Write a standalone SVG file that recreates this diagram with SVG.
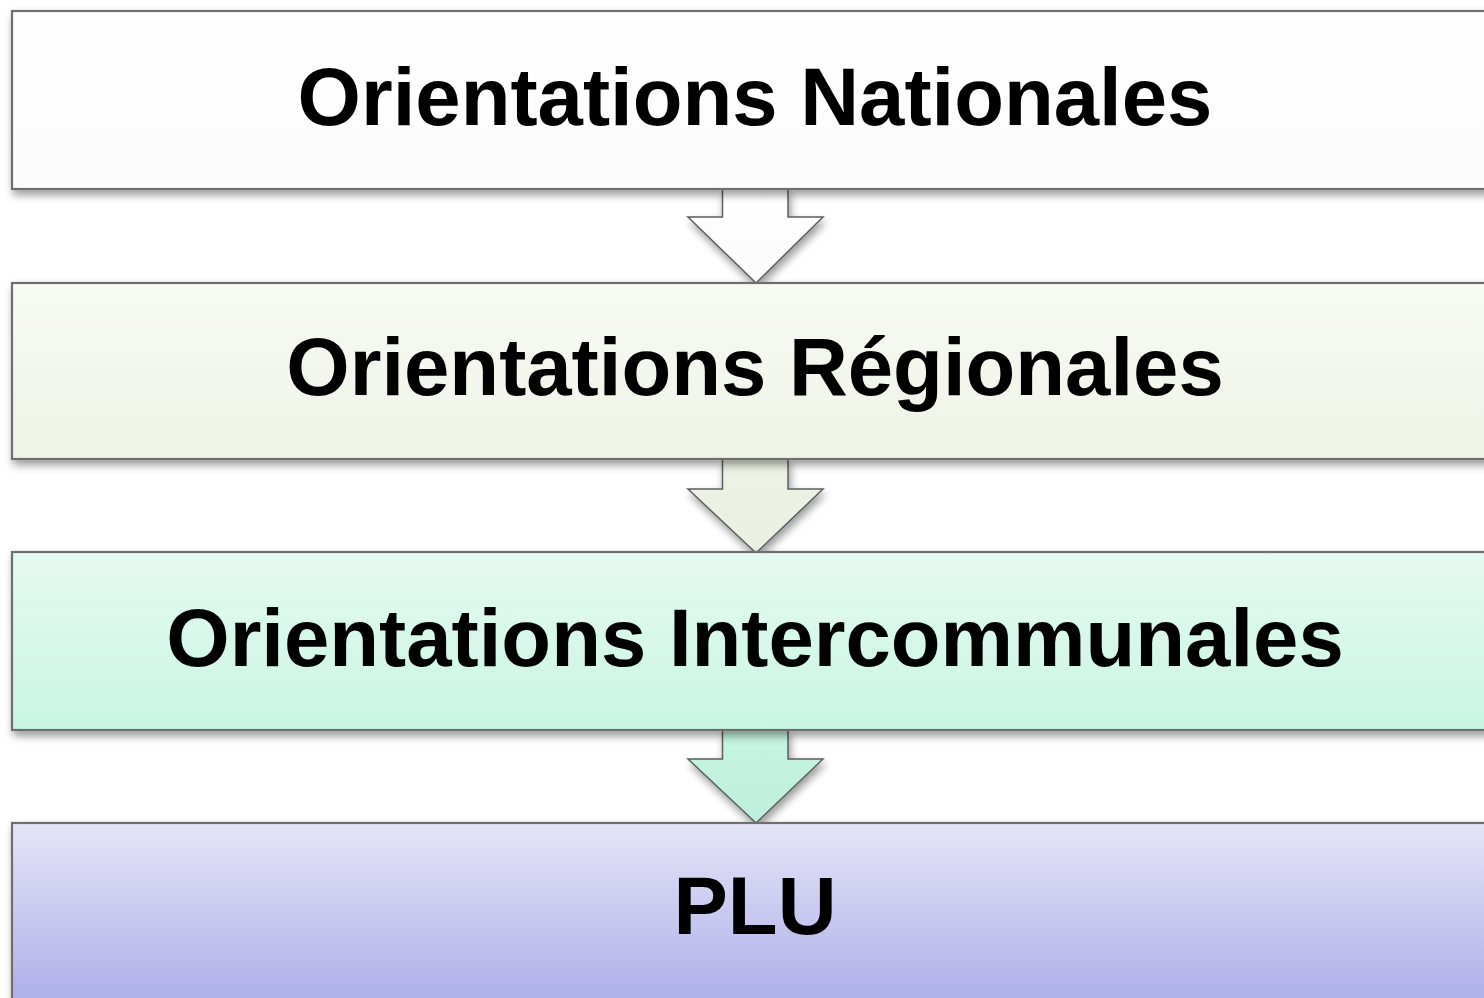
<svg xmlns="http://www.w3.org/2000/svg" width="1484" height="998" viewBox="0 0 1484 998">
<defs>
<filter id="sh" x="-5%" y="-20%" width="115%" height="150%">
<feGaussianBlur in="SourceAlpha" stdDeviation="4"/>
<feOffset dx="2" dy="5" result="b"/>
<feComponentTransfer><feFuncA type="linear" slope="0.4"/></feComponentTransfer>
<feMerge><feMergeNode/><feMergeNode in="SourceGraphic"/></feMerge>
</filter>
<linearGradient id="g1" x1="0" y1="0" x2="0" y2="1"><stop offset="0" stop-color="#fefefe"/><stop offset="1" stop-color="#fcfcfc"/></linearGradient>
<linearGradient id="g2" x1="0" y1="0" x2="0" y2="1"><stop offset="0" stop-color="#f8faf4"/><stop offset="1" stop-color="#eef3e6"/></linearGradient>
<linearGradient id="g3" x1="0" y1="0" x2="0" y2="1"><stop offset="0" stop-color="#e5faf2"/><stop offset="1" stop-color="#c9f5e3"/></linearGradient>
<linearGradient id="g4" x1="0" y1="0" x2="0" y2="1"><stop offset="0" stop-color="#e5e5f8"/><stop offset="1" stop-color="#a8a8e8"/></linearGradient>
<linearGradient id="a1" x1="0" y1="0" x2="0" y2="1"><stop offset="0" stop-color="#ffffff"/><stop offset="1" stop-color="#fbfbfb"/></linearGradient>
<linearGradient id="a2" x1="0" y1="0" x2="0" y2="1"><stop offset="0" stop-color="#eef2e4"/><stop offset="1" stop-color="#eaf0e2"/></linearGradient>
<linearGradient id="a3" x1="0" y1="0" x2="0" y2="1"><stop offset="0" stop-color="#c6f4df"/><stop offset="1" stop-color="#bdf0dc"/></linearGradient>
</defs>
<style>
.box{stroke:#6e6e6e;stroke-width:2.2;filter:url(#sh)}
.arr{stroke:#5e5e5e;stroke-width:1.5;stroke-linejoin:miter;filter:url(#sh)}
.lbl{font-family:"Liberation Sans",Arial,sans-serif;font-weight:bold;font-size:81.5px;fill:#000;text-anchor:middle}
</style>
<rect width="1484" height="998" fill="#ffffff"/>
<g id="connectors">
<path class="arr" fill="url(#a1)" d="M722.5,189 L788,189 L788,217 L823,217 L756,283 L688,217 L722.5,217 Z"/>
<path class="arr" fill="url(#a2)" d="M722.5,459 L788,459 L788,489 L823,489 L756,553 L688,489 L722.5,489 Z"/>
<path class="arr" fill="url(#a3)" d="M722.5,730 L788,730 L788,759 L823,759 L756,823 L688,759 L722.5,759 Z"/>
</g>
<g id="n4"><rect class="box" x="12" y="823" width="1500" height="200" fill="url(#g4)"/><text class="lbl" x="755" y="934">PLU</text></g>
<g id="n3"><rect class="box" x="12" y="552" width="1500" height="178" fill="url(#g3)"/><text class="lbl" x="755" y="666">Orientations Intercommunales</text></g>
<g id="n2"><rect class="box" x="12" y="283" width="1500" height="176" fill="url(#g2)"/><text class="lbl" x="755" y="395">Orientations Régionales</text></g>
<g id="n1"><rect class="box" x="12" y="11" width="1500" height="178" fill="url(#g1)"/><text class="lbl" x="755" y="125">Orientations Nationales</text></g>
</svg>
